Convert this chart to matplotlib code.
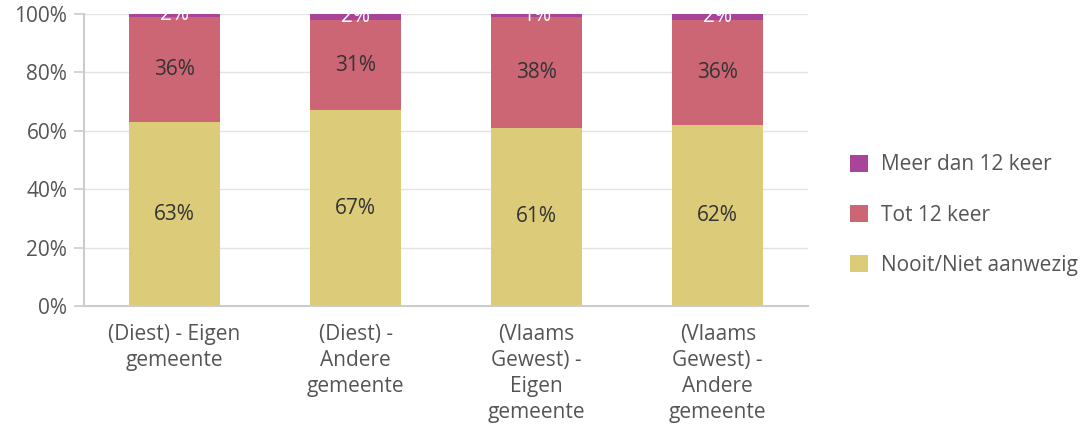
import numpy as np
import matplotlib
matplotlib.use("Agg")
from matplotlib import pyplot as plt
from matplotlib.patches import Patch

categories = ["(Diest) - Eigen\ngemeente", "(Diest) -\nAndere\ngemeente",
              "(Vlaams\nGewest) -\nEigen\ngemeente", "(Vlaams\nGewest) -\nAndere\ngemeente"]
nooit = [63, 67, 61, 62]
tot12 = [36, 31, 38, 36]
meer12 = [2, 2, 1, 2]
series_names = ["Nooit/Niet aanwezig", "Tot 12 keer", "Meer dan 12 keer"]
colors = ["#DCCB78", "#CC6674", "#A8449A"]
label_colors = ["#333333", "#333333", "#ffffff"]

plt.rcParams["font.family"] = ["Open Sans", "DejaVu Sans"]

fig = plt.figure(figsize=(10.86, 4.25), dpi=100)
ax = fig.add_axes([0.0773, 0.28, 0.667, 0.687])

x = np.arange(len(categories))
bottom = np.zeros(len(categories))
for vals, name, col, lc in zip([nooit, tot12, meer12], series_names, colors, label_colors):
    vals = np.array(vals, dtype=float)
    ax.bar(x, vals, 0.5, bottom=bottom, color=col, label=name, zorder=2)
    for xi, b, v in zip(x, bottom, vals):
        yc = min(b + v / 2, 100)
        ax.text(xi, yc, f"{int(v)}%", ha="center", va="center", fontsize=15,
                color=lc, zorder=3, clip_on=False)
    bottom += vals

ax.set_xlim(-0.5, len(categories) - 0.5)
ax.set_ylim(0, 100)
ax.set_yticks(range(0, 101, 20))
ax.set_yticklabels([f"{v}%" for v in range(0, 101, 20)], fontsize=15, color="#555555")
ax.set_xticks(x)
ax.set_xticklabels(categories, fontsize=15, color="#555555", linespacing=1.32)
ax.tick_params(axis="x", length=0, pad=13)
ax.tick_params(axis="y", length=7, color="#cccccc", width=1.2, pad=5)
ax.yaxis.grid(True, color="#e3e3e3", linewidth=1, zorder=0)
ax.set_axisbelow(True)
for s in ["top", "right"]:
    ax.spines[s].set_visible(False)
for s in ["left", "bottom"]:
    ax.spines[s].set_color("#cccccc")
    ax.spines[s].set_linewidth(1.5)

handles = [Patch(facecolor=c, label=n) for c, n in zip(colors, series_names)][::-1]
fig.legend(handles=handles, loc="center left", bbox_to_anchor=(0.765, 0.494),
           frameon=False, fontsize=15, labelcolor="#555555",
           handlelength=0.9, handleheight=0.9, handletextpad=0.6, labelspacing=1.4)

fig.savefig("out.png", dpi=100)
